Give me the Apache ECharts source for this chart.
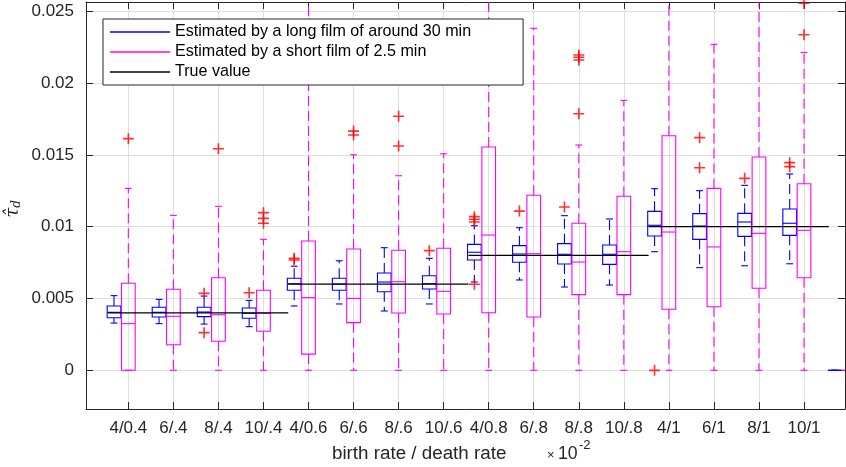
<!DOCTYPE html>
<html>
<head>
<meta charset="utf-8">
<script src="https://cdn.jsdelivr.net/npm/echarts@6/dist/echarts.min.js"></script>
<style>
    html, body {margin:0;padding:0;background:#fff;}
    #chart {width:846px;height:467px;}
</style>
</head>
<body>
<div id="chart"></div>
<script>
    // tick labels (birth rate / death rate, x 10^-2)
    var categories = ['4/0.4', '6/.4', '8/.4', '10/.4', '4/0.6', '6/.6', '8/.6', '10/.6',
                      '4/0.8', '6/.8', '8/.8', '10/.8', '4/1', '6/1', '8/1', '10/1'];

    // box stats per group: [lower whisker, q1, median, q3, upper whisker]
    // (a 17th all-zero group is cut off by the right edge)
    var longFilm = [
        [0.00329, 0.00366, 0.00404, 0.00448, 0.00520],
        [0.00325, 0.00371, 0.00404, 0.00439, 0.00494],
        [0.00322, 0.00374, 0.00406, 0.00439, 0.00517],
        [0.00304, 0.00362, 0.00397, 0.00434, 0.00487],
        [0.00448, 0.00557, 0.00603, 0.00641, 0.00725],
        [0.00462, 0.00557, 0.00601, 0.00641, 0.00763],
        [0.00413, 0.00547, 0.00615, 0.00678, 0.00854],
        [0.00462, 0.00566, 0.00603, 0.00659, 0.00780],
        [0.00615, 0.00768, 0.00822, 0.00877, 0.01007],
        [0.00629, 0.00752, 0.00810, 0.00868, 0.00993],
        [0.00580, 0.00740, 0.00808, 0.00882, 0.01077],
        [0.00594, 0.00738, 0.00808, 0.00873, 0.01054],
        [0.00826, 0.00935, 0.01010, 0.01107, 0.01265],
        [0.00715, 0.00912, 0.01005, 0.01091, 0.01251],
        [0.00728, 0.00933, 0.01033, 0.01093, 0.01288],
        [0.00742, 0.00940, 0.01024, 0.01123, 0.01367],
        [0, 0, 0, 0, 0]
    ];
    var shortFilm = [
        [0, 0,       0.00325, 0.00606, 0.01267],
        [0, 0.00178, 0.00376, 0.00564, 0.01079],
        [0, 0.00202, 0.00387, 0.00645, 0.01142],
        [0, 0.00272, 0.00397, 0.00557, 0.00912],
        [0, 0.00113, 0.00506, 0.00900, 0.03000],
        [0, 0.00332, 0.00501, 0.00845, 0.01501],
        [0, 0.00399, 0.00617, 0.00836, 0.01355],
        [0, 0.00392, 0.00550, 0.00850, 0.01508],
        [0, 0.00401, 0.00942, 0.01555, 0.03000],
        [0, 0.00371, 0.00812, 0.01219, 0.02382],
        [0, 0.00527, 0.00754, 0.01024, 0.01569],
        [0, 0.00527, 0.00826, 0.01212, 0.01880],
        [0, 0.00425, 0.00963, 0.01634, 0.03000],
        [0, 0.00443, 0.00859, 0.01267, 0.02270],
        [0, 0.00571, 0.00954, 0.01485, 0.03000],
        [0, 0.00645, 0.00975, 0.01299, 0.02214],
        [0, 0, 0, 0, 0]
    ];

    // outliers: [group number, value]
    var longOutliers = [
        [3, 0.00536], [3, 0.00262], [4, 0.00540],
        [5, 0.00780], [5, 0.00768], [8, 0.00833],
        [9, 0.01070], [9, 0.01052], [9, 0.01033], [9, 0.00599],
        [10, 0.01109], [11, 0.01137], [13, 0],
        [14, 0.01620], [14, 0.01411], [15, 0.01337],
        [16, 0.01446], [16, 0.01418]
    ];
    var shortOutliers = [
        [1, 0.01613], [3, 0.01543],
        [4, 0.01098], [4, 0.01058], [4, 0.01024],
        [6, 0.01666], [6, 0.01639], [7, 0.01769], [7, 0.01562],
        [11, 0.02196], [11, 0.02180], [11, 0.02161], [11, 0.01787],
        [16, 0.02337], [16, 0.02556]
    ];

    // true value per block of four groups
    var trueValues = [0.004, 0.006, 0.008, 0.010];

    var names = ['Estimated by a long film of around 30 min', 'Estimated by a short film of 2.5 min', 'True value'];

    var FONT = 'Liberation Sans, Arial, sans-serif';
    var AXIS = '#262626';
    var BLUE = '#0000ff', MAGENTA = '#ff00ff';
    var boxWidth = 0.304;
    var longShift = -0.318;

    var chart = echarts.init(document.getElementById('chart'), null, {renderer: 'canvas'});

    var toBoxData = function (list, shift) {
        return list.map(function (d, i) {
            return [i + 1 + shift].concat(d);
        });
    };

    var boxRender = function (color) {
        return function (params, api) {
            var x = api.value(0);
            var low = api.coord([x, api.value(1)]);
            var q1 = api.coord([x, api.value(2)]);
            var med = api.coord([x, api.value(3)]);
            var q3 = api.coord([x, api.value(4)]);
            var high = api.coord([x, api.value(5)]);
            var half = api.size([boxWidth, 0])[0] / 2;
            var cap = half / 2;
            var cx = q1[0];
            var cs = params.coordSys;
            var solid = {stroke: color, lineWidth: 1.1, fill: null};
            var dashed = {stroke: color, lineWidth: 1.1, fill: null, lineDash: [10, 5]};
            return {
                type: 'group',
                clipPath: {type: 'rect', shape: {x: cs.x, y: cs.y, width: cs.width, height: cs.height}},
                children: [
                    {type: 'line', shape: {x1: cx, y1: q3[1], x2: cx, y2: high[1]}, style: dashed},
                    {type: 'line', shape: {x1: cx, y1: q1[1], x2: cx, y2: low[1]}, style: dashed},
                    {type: 'line', shape: {x1: cx - cap, y1: high[1], x2: cx + cap, y2: high[1]}, style: solid},
                    {type: 'line', shape: {x1: cx - cap, y1: low[1], x2: cx + cap, y2: low[1]}, style: solid},
                    {type: 'rect', shape: {x: cx - half, y: q3[1], width: half * 2, height: q1[1] - q3[1]}, style: solid},
                    {type: 'line', shape: {x1: cx - half, y1: med[1], x2: cx + half, y2: med[1]}, style: solid}
                ]
            };
        };
    };

    var trueData = trueValues.map(function (v, g) {
        return [g * 4 + 0.55, g * 4 + 4.55, v];
    });

    var plus = 'path://M5.1,0H6.9V5.1H12V6.9H6.9V12H5.1V6.9H0V5.1H5.1Z';

    var tickX = categories.map(function (c, i) { return i + 1; });
    var tickY = [0, 0.005, 0.01, 0.015, 0.02, 0.025];

    var xBase = {
        type: 'value', min: 0.06, max: 16.91,
        axisLine: {show: true, onZero: false, lineStyle: {color: AXIS, width: 1}},
        axisTick: {show: true, inside: true, length: 7, customValues: tickX, lineStyle: {color: AXIS}},
        splitLine: {show: false}
    };
    var yBase = {
        type: 'value', min: -0.002695, max: 0.02565,
        axisLine: {show: true, onZero: false, lineStyle: {color: AXIS, width: 1}},
        axisTick: {show: true, inside: true, length: 7, customValues: tickY, lineStyle: {color: AXIS}},
        splitLine: {show: false}
    };

    var option = {
        animation: false,
        backgroundColor: '#fff',
        textStyle: {fontFamily: FONT},
        grid: {left: 86, right: 1, top: 2, bottom: 58, containLabel: false},
        xAxis: [
            Object.assign({}, xBase, {
                position: 'bottom',
                axisLabel: {
                    show: true, customValues: tickX, margin: 11, fontSize: 17, color: AXIS, fontFamily: FONT,
                    formatter: function (v) { return categories[Math.round(v) - 1] || ''; }
                },
                splitLine: {show: true, lineStyle: {color: '#dfdfdf', width: 1}}
            }),
            Object.assign({}, xBase, {position: 'top', axisLabel: {show: false}})
        ],
        yAxis: [
            Object.assign({}, yBase, {
                position: 'left',
                axisLabel: {
                    show: true, customValues: tickY, margin: 12, fontSize: 17, color: AXIS, fontFamily: FONT,
                    formatter: function (v) { return String(+v.toFixed(3)); }
                },
                splitLine: {show: true, lineStyle: {color: '#dfdfdf', width: 1}}
            }),
            Object.assign({}, yBase, {position: 'right', axisLabel: {show: false}})
        ],
        legend: {
            orient: 'vertical', left: 103, top: 19,
            padding: [3, 52, 3, 7], itemGap: 0, itemWidth: 60, itemHeight: 1.3,
            backgroundColor: '#fff', borderColor: AXIS, borderWidth: 1, borderRadius: 0,
            selectedMode: false,
            textStyle: {fontSize: 16.1, lineHeight: 20, color: '#000', fontFamily: FONT},
            data: [{name: names[0], icon: 'rect'}, {name: names[1], icon: 'rect'}, {name: names[2], icon: 'rect'}]
        },
        graphic: [
            {type: 'text', x: 13, y: 209, rotation: Math.PI / 2,
             style: {text: '{t|τ\u0302}{d|d}', align: 'center', verticalAlign: 'middle',
                     rich: {t: {font: 'italic 18px DejaVu Serif', fill: AXIS},
                            d: {font: 'italic 12px DejaVu Serif', fill: AXIS, padding: [7, 0, 0, 0]}}}},
            {type: 'text', x: 332, y: 453.5,
             style: {text: 'birth rate / death rate', font: '18.8px ' + FONT, fill: AXIS, verticalAlign: 'middle'}},
            {type: 'text', x: 547, y: 455,
             style: {text: '×', font: '13px ' + FONT, fill: AXIS, verticalAlign: 'middle'}},
            {type: 'text', x: 558, y: 454.5,
             style: {text: '10', font: '17.7px ' + FONT, fill: AXIS, verticalAlign: 'middle'}},
            {type: 'text', x: 579, y: 445.5,
             style: {text: '-2', font: '13px ' + FONT, fill: AXIS, verticalAlign: 'middle'}}
        ],
        series: [
            {
                name: names[0], type: 'custom', renderItem: boxRender(BLUE),
                itemStyle: {color: BLUE}, encode: {x: 0, y: [1, 2, 3, 4, 5]},
                data: toBoxData(longFilm, longShift), z: 3
            },
            {
                name: names[1], type: 'custom', renderItem: boxRender(MAGENTA),
                itemStyle: {color: MAGENTA}, encode: {x: 0, y: [1, 2, 3, 4, 5]},
                data: toBoxData(shortFilm, 0), z: 3
            },
            {
                name: names[2], type: 'custom', itemStyle: {color: '#000'}, z: 4,
                encode: {x: [0, 1], y: 2},
                renderItem: function (params, api) {
                    var a = api.coord([api.value(0), api.value(2)]);
                    var b = api.coord([api.value(1), api.value(2)]);
                    return {type: 'line', shape: {x1: a[0], y1: a[1], x2: b[0], y2: b[1]},
                            style: {stroke: '#000', lineWidth: 1.2}};
                },
                data: trueData
            },
            {
                name: 'outliers long', type: 'scatter', symbol: plus, symbolSize: 11, z: 5,
                itemStyle: {color: '#ff0000'},
                data: longOutliers.map(function (o) { return [o[0] + longShift, o[1]]; })
            },
            {
                name: 'outliers short', type: 'scatter', symbol: plus, symbolSize: 11, z: 5,
                itemStyle: {color: '#ff0000'},
                data: shortOutliers.map(function (o) { return [o[0], o[1]]; })
            }
        ]
    };

    chart.setOption(option);
</script>
</body>
</html>
